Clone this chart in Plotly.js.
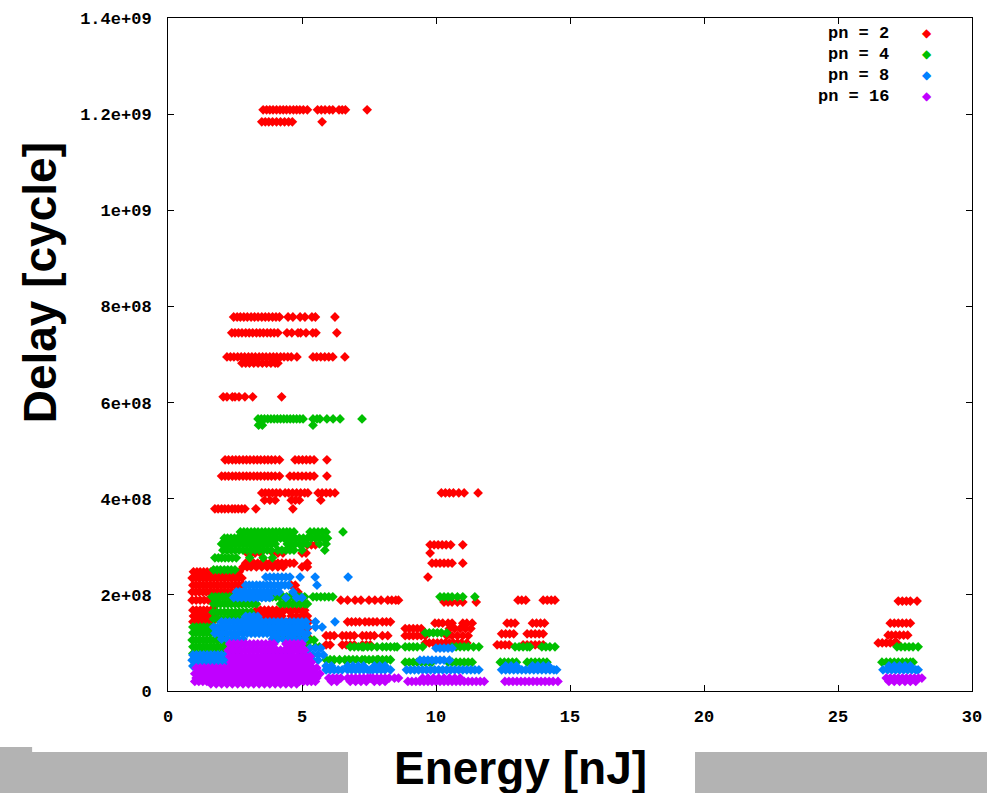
<!DOCTYPE html>
<html>
<head>
<meta charset="utf-8">
<script src="https://cdn.plot.ly/plotly-3.0.1.min.js"></script>
<style>html,body{margin:0;padding:0;background:#fff;}#chart{width:987px;height:793px;}</style>
</head>
<body>
<div id="chart"></div>
<script>
// Each row: [delay value, [energy values of the points on that delay level]]
const pn2 = [
  [12.09e8, [3.55,3.68,3.8,3.92,4.05,4.18,4.3,4.42,4.55,4.68,4.8,4.92,5.05,5.2,5.58,5.72,5.86,6.02,6.15,6.38,6.5,6.62,7.43]],
  [11.84e8, [3.5,3.63,3.76,3.9,4.05,4.2,4.35,4.5,4.64,5.75]],
  [7.78e8, [2.45,2.58,2.7,2.83,2.96,3.1,3.23,3.36,3.5,3.63,3.76,3.9,4.03,4.16,4.48,4.66,4.93,5.11,5.37,5.5,6.23]],
  [7.45e8, [2.38,2.5,2.63,2.76,2.9,3.03,3.16,3.3,3.43,3.56,3.7,3.83,3.96,4.1,4.44,4.62,4.85,4.95,5.15,5.4,5.52,6.3]],
  [6.95e8, [2.2,2.33,2.46,2.6,2.73,2.86,3.0,3.13,3.26,3.4,3.53,3.66,3.8,3.93,4.06,4.2,4.33,4.47,4.6,4.81,5.41,5.55,5.7,5.85,6.0,6.15,6.6]],
  [6.82e8, [2.76,2.9,3.04,3.2,3.36,3.52,3.68,3.84,4.0,4.1]],
  [6.12e8, [2.06,2.2,2.4,2.5,2.65,2.87,3.16,4.24]],
  [4.81e8, [2.13,2.26,2.4,2.53,2.66,2.8,2.93,3.06,3.2,3.33,3.46,3.6,3.73,3.86,4.0,4.16,4.74,4.88,5.02,5.16,5.3,5.45,5.93]],
  [4.47e8, [2.0,2.13,2.26,2.4,2.53,2.66,2.8,2.93,3.06,3.2,3.33,3.46,3.6,3.73,3.86,4.0,4.16,4.55,4.7,4.85,5.0,5.15,5.3,5.45,5.93]],
  [4.12e8, [3.5,3.63,3.76,3.9,4.04,4.18,4.37,4.5,4.65,4.8,4.95,5.1,5.22,5.6,5.75,5.9,6.05,6.23,10.2,10.35,10.5,10.65,10.85,11.05,11.57]],
  [3.97e8, [3.6,3.8,4.0,4.6,4.75,4.9,5.7]],
  [3.79e8, [1.75,1.87,2.0,2.12,2.25,2.39,2.5,2.62,2.75,2.87,3.28,4.66]],
  [3.04e8, [5.2,5.35,5.5,9.78,9.93,10.08,10.23,10.38,10.55,11.0]],
  [2.87e8, [2.95,3.1,3.25,3.45,3.92,4.1,4.29,5.0,5.15,9.78]],
  [2.66e8, [2.9,3.05,3.2,3.35,3.5,3.65,3.8,3.95,4.1,4.25,4.4,4.55,4.7,5.2,9.85,10.0,10.15,10.3,10.45,10.6,11.0]],
  [2.58e8, [2.8,2.95,3.1,3.3,3.5,3.7,3.9,4.1,4.3,5.0,5.2]],
  [2.48e8, [0.95,1.08,1.2,1.33,1.46,1.6,1.73,1.86,2.0,2.13,2.26,2.4,2.53,2.66]],
  [2.37e8, [9.7]],
  [2.35e8, [0.9,1.03,1.16,1.3,1.43,1.56,1.7,1.83,1.96,2.1,2.23,2.36,2.5,2.63,2.76]],
  [2.2e8, [0.93,1.06,1.2,1.33,1.46,1.6,1.73,1.86,2.0,2.13,2.26,2.4,2.53,2.66,2.8,4.6,4.75]],
  [2.06e8, [0.9,1.03,1.16,1.3,1.43,1.56,1.7,1.83,1.96,2.1,2.23,2.36,2.5,2.63,2.8,4.7,4.85]],
  [1.89e8, [0.9,1.05,1.2,1.35,1.5,1.65,1.75,6.45,6.7,6.98,7.2,7.5,7.72,7.95,8.2,8.35,8.5,8.6,13.06,13.2,13.35,14.0,14.15,14.3,14.44]],
  [1.87e8, [27.25,27.4,27.55,27.7,27.95]],
  [1.85e8, [10.3,10.45,10.6,10.8,11.0,11.5]],
  [1.68e8, [0.93,1.06,1.2,1.33,1.46,1.6,1.73,3.3,3.45,3.6,3.75,3.9,4.05,4.2,4.35,4.5,4.65,4.8,4.95,5.1]],
  [1.56e8, [0.95,1.08,1.22,1.35,1.5,1.63,1.76,3.35,3.5,3.65,3.8,3.95,4.1,4.25,4.6,4.8,5.0,5.2]],
  [1.44e8, [0.93,1.06,1.2,1.35,1.5,1.65,3.4,3.55,3.7,3.85,4.0,4.15,4.3,4.5,4.7,4.9,5.1,5.25,6.7,6.85,7.0,7.15,7.35,7.5,7.65,7.8,8.0,8.15,8.3]],
  [1.41e8, [9.96,10.1,10.25,10.45,10.6,11.0,11.15,11.35,12.65,12.8,12.95,13.6,13.75,13.9,14.05,26.95,27.1,27.25,27.4,27.55,27.7]],
  [1.3e8, [4.2,4.4,4.6,4.8,5.0,5.2,8.85,9.0,9.15,9.3,9.45,10.5,10.7,10.9,11.1,11.3]],
  [1.19e8, [12.45,12.6,12.75,12.9,13.4,13.55,13.7,13.85,14.0]],
  [1.16e8, [26.87,27.0,27.15,27.3,27.45,27.6]],
  [1.15e8, [5.9,6.05,6.2,6.5,6.65,6.8,6.95,7.25,7.4,7.55,7.7,8.0,8.2,8.85,9.0,9.15,9.3,9.45,9.6,10.4,10.6,10.8,11.0,11.2]],
  [1.08e8, [4.4,4.6,4.8,5.0,5.3]],
  [1.0e8, [9.6,9.75,9.9,10.05,10.2,10.35,10.5,10.65,10.8,10.95,11.15,26.5,26.65,26.8,26.95,27.1,27.2]],
  [0.96e8, [5.9,6.05,6.5,6.65,6.8,6.95,7.25,7.4,7.55,12.28,12.43,12.58,12.73,13.25,13.4,13.55,13.7,13.85,14.0]]
];

const pn4 = [
  [5.66e8, [3.36,3.48,3.6,3.72,3.84,3.96,4.08,4.2,4.32,4.44,4.56,4.68,4.8,4.92,5.04,5.41,5.56,5.67,5.93,6.16,6.42,7.24]],
  [5.53e8, [3.38,3.52,5.41]],
  [3.31e8, [2.7,2.83,2.96,3.1,3.23,3.36,3.5,3.63,3.76,3.9,4.03,4.16,4.3,4.43,4.55,4.7,5.3,5.45,5.6,5.75,5.9,6.53]],
  [3.18e8, [2.1,2.22,2.35,2.48,2.6,2.73,2.86,3.0,3.13,3.26,3.4,3.53,3.66,3.8,3.93,4.06,4.2,4.33,4.46,4.6,4.75,4.9,5.05,5.2,5.35,5.5,5.65,5.8,5.95]],
  [3.06e8, [2.0,2.13,2.26,2.4,2.53,2.66,2.8,2.93,3.06,3.2,3.33,3.46,3.6,3.73,3.86,4.0,4.45,4.6,4.75,4.9,5.05,5.2,5.65,5.9]],
  [2.93e8, [2.05,2.2,2.35,2.5,2.65,2.8,2.95,3.1,3.25,3.4,3.55,3.7,3.85,4.1,4.25,4.4,4.55,4.7,5.0,5.85]],
  [2.77e8, [1.75,1.88,2.0,2.13,2.26,2.4,2.55,3.05,3.55,3.9]],
  [2.52e8, [1.7,1.83,1.96,2.1,2.23,2.36,2.5]],
  [1.96e8, [1.64,1.77,1.9,2.03,2.16,2.3,2.43,2.56,2.7,2.83,2.96,3.1,3.23,3.36,3.5,3.63,3.76,3.9,4.03,4.16,4.3,4.43,4.56,4.7,4.83,4.96,5.1,5.41,5.55,5.7,5.85,6.0,6.15,10.15,10.3,10.45,10.6,10.8,11.0,11.45]],
  [1.81e8, [1.7,1.83,1.96,2.1,2.23,2.36,2.5,2.63,2.76,2.9,3.03,3.16,3.3,4.2,4.35,4.5,4.65,4.8,4.95,5.1,5.2]],
  [1.64e8, [1.68,1.82,1.96,2.1,2.24,2.38,2.52,2.66,2.8,2.94,3.1]],
  [1.5e8, [1.7,1.85,2.0,2.15,2.3,2.45,2.6,2.75,2.9,3.05]],
  [1.33e8, [0.93,1.06,1.2,1.33,1.46,1.6,1.73]],
  [1.21e8, [0.93,1.06,1.2,1.33,1.46,1.6,1.73,1.86,2.0,2.15,3.9,4.05,4.2,4.35,4.5,4.65,9.6,9.75,9.9,10.05,10.2,10.4]],
  [1.06e8, [0.9,1.03,1.16,1.3,1.43,1.56,1.7,1.83,1.96,2.1,2.25,2.4,4.4,4.55,4.7,4.85,5.0,5.15,5.3,5.45]],
  [0.92e8, [0.93,1.06,1.2,1.33,1.46,1.6,1.73,1.86,2.0,2.13,2.26,2.4,2.53,4.5,4.65,4.8,4.95,5.1,5.25,5.5,5.65,6.8,6.95,7.1,7.24,7.3,7.45,7.6,7.8,8.0,8.15,8.3,8.45,8.55,8.85,9.0,9.15,9.3,9.5,10.6,10.75,10.9,11.05,11.2,11.4,11.6,12.95,13.1,13.25,13.4,13.5,13.95,14.1,14.25,14.44,27.2,27.35,27.5,27.65,27.8,27.99]],
  [0.78e8, [0.93,1.06,1.2,1.33,1.46,1.6,1.73,1.86,2.0,2.13,2.26,2.4,2.55]],
  [0.65e8, [5.9,6.05,6.2,6.4,6.6,6.75,6.9,7.05,7.24,7.35,7.5,7.65,7.8,7.85,8.0,8.15,8.3]],
  [0.6e8, [8.85,9.0,9.15,9.3,9.45,9.6,9.75,9.85,10.45,10.6,10.75,10.9,11.05,11.2,11.35,12.4,12.55,12.7,12.85,13.0,13.4,13.55,13.7,13.85,14.0,14.14,26.64,26.8,26.95,27.1,27.25,27.4,27.55,27.7,27.8]]
];

const pn8 = [
  [2.37e8, [3.65,3.8,3.95,4.1,4.25,4.4,4.55,4.93,5.49,6.72]],
  [2.2e8, [2.9,3.03,3.16,3.3,3.43,3.56,3.7,3.83,3.96,4.1,4.23,4.36,4.5,5.56]],
  [2.06e8, [2.55,2.68,2.8,2.93,3.06,3.2,3.33,3.46,3.6,3.73,3.86,4.0,4.15,4.66]],
  [1.94e8, [2.45,2.6,2.75,2.9,3.05,3.2,3.35,3.5,3.65,3.8,4.4,4.8,5.0]],
  [1.55e8, [2.9,3.05,3.2,3.35]],
  [1.44e8, [2.0,2.15,2.3,2.45,2.6,2.75,2.9,3.05,3.2,3.35,3.5,3.65,3.8,3.95,4.1,4.25,4.4,4.55,4.7,4.85,5.0,5.15,5.5,6.23]],
  [1.33e8, [1.7,1.85,2.0,2.15,2.3,2.45,2.6,2.75,2.9,3.05,3.2,3.35,3.5,3.65,3.8,3.95,4.1,4.25,4.4,4.55,4.7,4.85,5.0,5.2,5.5,5.75]],
  [1.2e8, [1.75,1.9,2.05,2.2,2.35,2.5,2.65,2.8,2.95,3.1,3.25,3.4,3.55,3.7,3.85,4.0,4.15,4.3,4.45,4.6,4.75,4.9,5.05,5.2]],
  [1.08e8, [2.0,2.2,2.4,2.6,2.8,3.9,4.1,4.3,4.5,4.7,4.9,5.1]],
  [0.89e8, [5.3,5.5,5.7,10.0,10.15,10.3,10.45,10.6]],
  [0.75e8, [0.93,1.06,1.2,1.33,1.46,1.6,1.73,1.86,2.0,2.15,2.3,3.6,3.75,3.9,4.05,4.2,4.35,4.5,5.0,5.2,5.4,5.6,5.8]],
  [0.64e8, [0.9,1.03,1.16,1.3,1.43,1.56,1.7,1.83,1.96,2.1,2.25,4.0,4.2,4.4,4.6,5.2,5.4,5.6,9.4,9.55,9.7,9.85,10.0,10.15,10.3,10.5]],
  [0.52e8, [0.93,1.06,1.2,1.33,1.46,1.6,1.73,1.86,2.0,2.15,5.9,6.1,6.7,6.9,7.1,7.3,7.7,7.9,8.1,12.6,12.8,13.0,13.6,13.8,14.0,14.2,26.9,27.1,27.3,27.5,27.7]],
  [0.44e8, [5.9,6.05,6.2,6.35,6.5,6.7,6.85,7.0,7.15,7.3,7.45,7.55,7.65,7.8,7.95,8.1,8.3,8.9,9.05,9.2,9.35,9.5,9.65,9.8,9.95,10.1,10.25,10.4,10.55,10.7,10.85,11.0,11.15,11.3,11.45,11.6,12.45,12.6,12.75,12.9,13.05,13.2,13.35,13.5,13.65,13.8,13.95,14.1,14.25,14.4,14.5,26.68,26.85,27.0,27.15,27.3,27.45,27.6,27.75,27.9,27.99]]
];

const pn16 = [
  [0.98e8, [2.3,2.45,2.6,2.75,2.9,3.05,3.2,3.35,3.5,3.65,3.8,3.95,4.4,4.55,4.7,4.85,5.0]],
  [0.85e8, [2.25,2.4,2.55,2.7,2.85,3.0,3.15,3.3,3.45,3.6,3.75,3.9,4.05,4.2,4.35,4.5,4.65,4.8,4.95,5.1]],
  [0.72e8, [2.3,2.45,2.6,2.75,2.9,3.05,3.2,3.35,3.5,3.65,3.8,3.95,4.1,4.25,4.4,4.55,4.7,4.85,5.0,5.15,5.3]],
  [0.6e8, [2.35,2.5,2.65,2.8,2.95,3.1,3.25,3.4,3.55,3.7,3.85,4.0,4.15,4.3,4.45,4.6,4.75,4.9,5.05,5.2,5.35]],
  [0.48e8, [1.05,1.2,1.35,1.5,1.65,1.8,1.95,2.1,2.25,2.4,2.55,2.7,2.85,3.0,3.15,3.3,3.45,3.6,3.75,3.9,4.05,4.2,4.35,4.5,4.65,4.8,4.95,5.1,5.25,5.4,5.55]],
  [0.36e8, [1.0,1.15,1.3,1.45,1.6,1.75,1.9,2.05,2.2,2.35,2.5,2.65,2.8,2.95,3.1,3.25,3.4,3.55,3.7,3.85,4.0,4.15,4.3,4.45,4.6,4.75,4.9,5.05,5.2,5.35,5.5,5.67]],
  [0.27e8, [1.05,1.2,1.35,1.5,1.65,1.8,1.95,2.1,2.25,2.4,2.55,2.7,2.85,3.0,3.15,3.3,3.45,3.6,3.75,3.9,4.05,4.2,4.35,4.5,4.65,4.8,4.95,5.1,5.25,5.4,5.55,6.0,6.15,6.3,6.45,6.7,6.85,7.0,7.15,7.3,7.45,7.55,7.65,7.8,7.95,8.1,8.25,8.45,8.6,9.5,9.7,9.9,10.1,10.3,10.5,10.7,10.9,26.8,26.95,27.1,27.25,27.4,27.55,27.7,27.85,28.0,28.13]],
  [0.2e8, [1.0,1.15,1.3,1.45,1.6,1.75,1.9,2.05,2.2,2.35,2.5,2.65,2.8,2.95,3.1,3.25,3.4,3.55,3.7,3.85,4.0,4.15,4.3,4.45,4.6,4.75,4.9,5.05,5.2,5.35,5.5,6.1,6.3,6.8,7.0,7.2,7.4,7.7,7.9,8.1,8.95,9.1,9.25,9.4,9.55,9.7,9.85,10.0,10.15,10.3,10.45,10.6,10.75,10.9,11.05,11.2,11.35,11.5,11.65,11.8,12.57,12.72,12.87,13.02,13.17,13.32,13.47,13.62,13.77,13.92,14.07,14.22,14.37,14.55,26.9,27.1,27.3,27.5,27.7,27.9]],
  [0.15e8, [1.6,1.8,2.0,2.2,2.4,2.6,2.8,3.0,3.2,3.4,3.6,3.8,4.0,4.2,4.4,4.6,4.8]]
];

const seriesNames = ['pn = 2', 'pn = 4', 'pn = 8', 'pn = 16'];
const seriesColors = ['#ff0000', '#00c000', '#0080ff', '#c000ff'];
const yTickVals = [0, 2e8, 4e8, 6e8, 8e8, 1e9, 1.2e9, 1.4e9];
const yTickText = ['0', '2e+08', '4e+08', '6e+08', '8e+08', '1e+09', '1.2e+09', '1.4e+09'];
const xTickVals = [0, 5, 10, 15, 20, 25, 30];
const xTickText = ['0', '5', '10', '15', '20', '25', '30'];

function flatten(rows) {
  const x = [], y = [];
  rows.forEach(function (r) { r[1].forEach(function (e) { x.push(e); y.push(r[0]); }); });
  return { x: x, y: y };
}

const allSeries = [pn2, pn4, pn8, pn16];
const traces = allSeries.map(function (rows, i) {
  const d = flatten(rows);
  return {
    type: 'scatter', mode: 'markers', name: seriesNames[i],
    x: d.x, y: d.y, showlegend: false,
    marker: { symbol: 'diamond', size: 7.5, color: seriesColors[i], line: { width: 0 } }
  };
});

const monoFont = { family: 'Liberation Mono, DejaVu Sans Mono, monospace', size: 17, color: '#000', weight: 'bold' };

const legendY = [0.9777, 0.9465, 0.9153, 0.8841];
const annotations = [];
seriesNames.forEach(function (n, i) {
  annotations.push({ xref: 'paper', yref: 'paper', x: 0.8993, y: legendY[i], xanchor: 'right', yanchor: 'middle',
    text: n, showarrow: false, font: monoFont });
  annotations.push({ xref: 'paper', yref: 'paper', x: 0.944, y: legendY[i], xanchor: 'center', yanchor: 'middle',
    text: '\u25C6', showarrow: false, font: { family: 'DejaVu Sans', size: 12, color: seriesColors[i] } });
});
annotations.push({ xref: 'paper', yref: 'paper', x: -0.159, y: 0.606, xanchor: 'center', yanchor: 'middle',
  text: 'Delay [cycle]', textangle: -90, showarrow: false,
  font: { family: 'Liberation Sans, Arial, sans-serif', size: 46, color: '#000', weight: 'bold' } });
annotations.push({ xref: 'paper', yref: 'paper', x: 0.439, y: -0.114, xanchor: 'center', yanchor: 'middle',
  text: 'Energy [nJ]', showarrow: false,
  font: { family: 'Liberation Sans, Arial, sans-serif', size: 46, color: '#000', weight: 'bold' } });

const shapes = [
  { type: 'rect', xref: 'paper', yref: 'paper', x0: -0.21, x1: 0.2239, y0: -0.16, y1: -0.0906, fillcolor: '#b3b3b3', line: { width: 0 }, layer: 'below' },
  { type: 'rect', xref: 'paper', yref: 'paper', x0: -0.21, x1: -0.169, y0: -0.16, y1: -0.0832, fillcolor: '#b3b3b3', line: { width: 0 }, layer: 'below' },
  { type: 'rect', xref: 'paper', yref: 'paper', x0: 0.6555, x1: 1.03, y0: -0.16, y1: -0.0906, fillcolor: '#b3b3b3', line: { width: 0 }, layer: 'below' }
];

const layout = {
  width: 987, height: 793,
  margin: { l: 168, r: 15, t: 18, b: 102 },
  paper_bgcolor: '#fff', plot_bgcolor: '#fff',
  showlegend: false,
  xaxis: {
    range: [0, 30], tickvals: xTickVals, ticktext: xTickText,
    ticks: 'inside', ticklen: 6, tickcolor: '#000', showline: true, linecolor: '#000', linewidth: 1,
    mirror: 'ticks', showgrid: false, zeroline: false, tickfont: monoFont, ticklabelstandoff: 10
  },
  yaxis: {
    range: [0, 1.4e9], tickvals: yTickVals, ticktext: yTickText,
    ticks: 'inside', ticklen: 6, tickcolor: '#000', showline: true, linecolor: '#000', linewidth: 1,
    mirror: 'ticks', showgrid: false, zeroline: false, tickfont: monoFont, ticklabelstandoff: 12
  },
  annotations: annotations,
  shapes: shapes
};

Plotly.newPlot('chart', traces, layout, { staticPlot: true, displayModeBar: false });
</script>
</body>
</html>
